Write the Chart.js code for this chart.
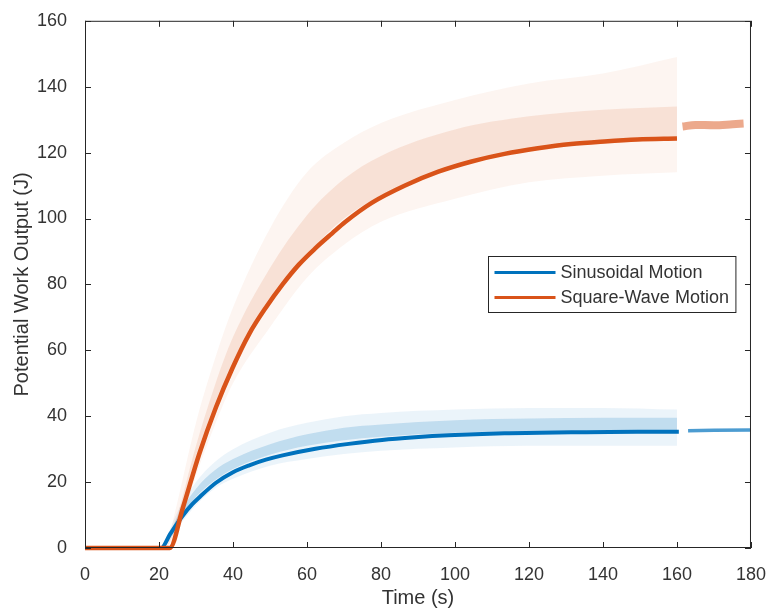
<!DOCTYPE html>
<html>
<head>
<meta charset="utf-8">
<script src="https://cdn.jsdelivr.net/npm/chart.js@4.4.1/dist/chart.umd.min.js"></script>
<style>
html, body { margin: 0; padding: 0; background: #fff; }
#wrap { width: 774px; height: 613px; }
</style>
</head>
<body>
<div id="wrap"><canvas id="chart" width="774" height="613"></canvas></div>
<script>
// mean curves
var sinX = [0, 20.6, 23, 26.4, 29, 31, 35.4, 40, 44.4, 48.9, 53.4, 62.3, 71.3, 80.3, 89.2, 98.2, 113.4, 131.4, 149.3, 160.5];
var sinY = [0, 0, 4.2, 9.8, 13.3, 15.5, 19.8, 23, 25.1, 26.8, 28.1, 30.1, 31.6, 32.8, 33.6, 34.2, 34.8, 35.1, 35.3, 35.3];
var sqX = [0, 22.9, 26.4, 30.9, 35.4, 39.9, 44.4, 48.9, 53.4, 57.8, 62.3, 66.8, 70.4, 77.6, 86.5, 95.5, 104.5, 113.4, 122.4, 131.4, 140.4, 149.3, 160];
var sqY = [0, 0, 12, 28.6, 42.7, 54.7, 65, 73, 80, 86, 91, 95.5, 99, 104.8, 110, 114.2, 117.3, 119.6, 121.3, 122.6, 123.4, 124, 124.3];

// short runs after the gap at 160 s
var sinTailX = [163, 170, 180];
var sinTailY = [35.6, 35.7, 35.8];
var sqTailX = [161.5, 165, 170, 175, 178];
var sqTailY = [127.9, 128.4, 128.3, 128.6, 128.8];

// spread of the raw samples around each curve
var bandX = [22, 25, 30, 35, 40, 50, 60, 70, 80, 100, 120, 140, 160];
var sqOuterHi = [0, 14, 38, 57, 73, 97, 114, 123, 129, 136, 141, 144, 149];
var sqOuterLo = [0, 5, 22, 37, 50, 67, 82, 92, 99, 106, 111, 113, 114];
var sqInnerHi = [0, 10, 31, 49, 64, 85, 101, 112, 119, 127, 131, 133, 134];
var sqInnerLo = [0, 7, 26, 42, 56, 74, 89, 100, 107, 116, 121, 123.5, 124.5];
var sinOuterHi = [3, 11, 20, 26, 30, 35, 38, 40, 41, 42, 42.5, 42.5, 42];
var sinOuterLo = [1, 6, 13, 18, 21, 25, 27, 28.5, 29.5, 30.5, 31, 31, 31];
var sinInnerHi = [2.5, 9.5, 18, 23.5, 27, 31.5, 34.5, 36.5, 37.5, 38.8, 39.3, 39.5, 39.5];
var sinInnerLo = [2.4, 8, 15.5, 20.5, 24, 28.3, 31, 32.7, 33.8, 35, 35.4, 35.6, 35.6];

var xTicks = [0, 20, 40, 60, 80, 100, 120, 140, 160, 180];
var yTicks = [0, 20, 40, 60, 80, 100, 120, 140, 160];

var BLUE = '#0072BD';
var ORANGE = '#D95319';
var INK = '#333333';
var FONT = "Arial, 'Liberation Sans', Helvetica, sans-serif";

function pts(xs, ys) {
    return xs.map(function (x, i) { return { x: x, y: ys[i] }; });
}

function band(ys, color, order, target) {
    return {
        data: pts(bandX, ys),
        borderWidth: 0,
        pointRadius: 0,
        backgroundColor: color,
        fill: target === undefined ? false : target,
        cubicInterpolationMode: 'monotone',
        order: order
    };
}

// draws the box, inward ticks and the legend the way MATLAB does
var frame = {
    id: 'frame',
    afterDatasetsDraw: function (chart) {
        var ctx = chart.ctx;
        var a = chart.chartArea;
        var xs = chart.scales.x;
        var ys = chart.scales.y;
        ctx.save();
        ctx.strokeStyle = '#262626';
        ctx.lineWidth = 1;
        ctx.strokeRect(a.left + 0.5, a.top + 0.5, a.right - a.left - 1, a.bottom - a.top - 1);
        ctx.beginPath();
        xTicks.forEach(function (v) {
            var p = Math.round(xs.getPixelForValue(v)) + 0.5;
            ctx.moveTo(p, a.bottom); ctx.lineTo(p, a.bottom - 6);
            ctx.moveTo(p, a.top); ctx.lineTo(p, a.top + 6);
        });
        yTicks.forEach(function (v) {
            var p = Math.round(ys.getPixelForValue(v)) + 0.5;
            ctx.moveTo(a.left, p); ctx.lineTo(a.left + 6, p);
            ctx.moveTo(a.right, p); ctx.lineTo(a.right - 6, p);
        });
        ctx.stroke();

        // legend, 'east' location
        var items = chart.data.datasets.filter(function (d) { return d.label; });
        ctx.font = '18px ' + FONT;
        var textW = 0;
        items.forEach(function (d) { textW = Math.max(textW, ctx.measureText(d.label).width); });
        var boxW = 6 + 61 + 5 + textW + 7;
        var boxH = 56;
        var bx = Math.round(a.right - 16 - boxW) + 0.5;
        var by = Math.round((a.top + a.bottom) / 2 - boxH / 2) + 0.5;
        ctx.fillStyle = '#fff';
        ctx.fillRect(bx, by, boxW, boxH);
        ctx.strokeStyle = '#262626';
        ctx.strokeRect(bx, by, boxW, boxH);
        items.forEach(function (d, i) {
            var cy = by + 16 + i * 25;
            ctx.strokeStyle = d.borderColor;
            ctx.lineWidth = 3;
            ctx.beginPath();
            ctx.moveTo(bx + 6, cy); ctx.lineTo(bx + 67, cy);
            ctx.stroke();
            ctx.fillStyle = INK;
            ctx.textBaseline = 'middle';
            ctx.fillText(d.label, bx + 72, cy + 1);
        });
        ctx.restore();
    }
};

new Chart(document.getElementById('chart'), {
    type: 'line',
    data: {
        datasets: [
            {
                label: 'Sinusoidal Motion',
                data: pts(sinX, sinY),
                borderColor: BLUE,
                backgroundColor: BLUE,
                borderWidth: 4,
                pointRadius: 0,
                fill: false,
                cubicInterpolationMode: 'monotone',
                clip: 6,
                order: 1
            },
            {
                label: 'Square-Wave Motion',
                data: pts(sqX, sqY),
                borderColor: ORANGE,
                backgroundColor: ORANGE,
                borderWidth: 4.5,
                pointRadius: 0,
                fill: false,
                cubicInterpolationMode: 'monotone',
                clip: 6,
                order: 0
            },
            {
                data: pts(sinTailX, sinTailY),
                borderColor: 'rgba(0,114,189,0.7)',
                borderWidth: 3.5,
                pointRadius: 0,
                fill: false,
                clip: 6,
                order: 2
            },
            {
                data: pts(sqTailX, sqTailY),
                borderColor: 'rgba(217,83,25,0.5)',
                borderWidth: 8,
                pointRadius: 0,
                fill: false,
                cubicInterpolationMode: 'monotone',
                order: 3
            },
            band(sqInnerHi, 'rgba(217,83,25,0.12)', 4, 5),
            band(sqInnerLo, 'rgba(0,0,0,0)', 5),
            band(sqOuterHi, 'rgba(217,83,25,0.06)', 6, 7),
            band(sqOuterLo, 'rgba(0,0,0,0)', 7),
            band(sinInnerHi, 'rgba(0,114,189,0.18)', 8, 9),
            band(sinInnerLo, 'rgba(0,0,0,0)', 9),
            band(sinOuterHi, 'rgba(0,114,189,0.08)', 10, 11),
            band(sinOuterLo, 'rgba(0,0,0,0)', 11)
        ]
    },
    options: {
        responsive: false,
        animation: false,
        layout: { padding: { left: 0, right: 20, top: 18, bottom: 0 } },
        plugins: {
            legend: { display: false },
            tooltip: { enabled: false }
        },
        scales: {
            x: {
                type: 'linear',
                min: 0,
                max: 180,
                afterFit: function (s) { s.height = 65; },
                afterBuildTicks: function (s) { s.ticks = xTicks.map(function (v) { return { value: v }; }); },
                grid: { display: false },
                border: { display: false },
                ticks: { color: INK, padding: 8, maxRotation: 0, font: { family: FONT, size: 18 } },
                title: { display: true, text: 'Time (s)', color: INK, padding: { top: 0, bottom: 3 }, font: { family: FONT, size: 20 } }
            },
            y: {
                type: 'linear',
                min: 0,
                max: 160,
                afterFit: function (s) { s.width = 85; },
                afterBuildTicks: function (s) { s.ticks = yTicks.map(function (v) { return { value: v }; }); },
                grid: { display: false },
                border: { display: false },
                ticks: { color: INK, padding: 10, font: { family: FONT, size: 18 } },
                title: { display: true, text: 'Potential Work Output (J)', color: INK, padding: { top: 10, bottom: 0 }, font: { family: FONT, size: 20 } }
            }
        }
    },
    plugins: [frame]
});
</script>
</body>
</html>
